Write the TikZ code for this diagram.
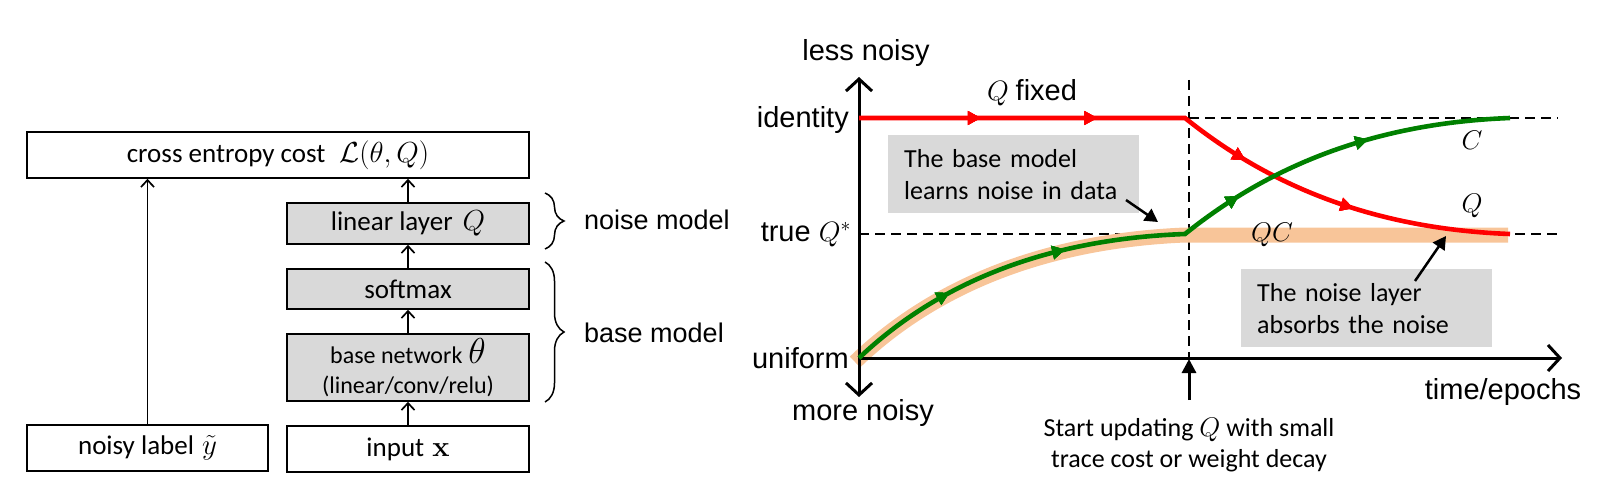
\RequirePackage{fix-cm}
\documentclass[tikz,border=0pt]{standalone}
\usepackage[no-math]{fontspec}
\setmainfont{Carlito}
\newfontfamily\arialf{Liberation Sans}
\usetikzlibrary{arrows.meta,decorations.pathreplacing,decorations.markings}
\definecolor{boxgray}{RGB}{217,217,217}
\definecolor{curvered}{RGB}{255,0,0}
\definecolor{curvegreen}{RGB}{0,128,0}
\definecolor{bandorange}{RGB}{248,197,153}
\tikzset{
  blk/.style={draw=black, line width=1.6pt, minimum width=242pt, inner sep=0pt, font=\fontsize{27}{32}\selectfont},
  gblk/.style={blk, fill=boxgray},
  conn/.style={line width=1.5pt, -{Straight Barb[length=7pt,width=13pt,line width=1.7pt]}},
  brc/.style={decorate, decoration={brace, amplitude=19pt}, line width=1.5pt},
  sidelbl/.style={font=\arialf\fontsize{27}{32}\selectfont, anchor=west, inner sep=0pt},
  axlbl/.style={font=\arialf\fontsize{29}{34}\selectfont, inner sep=0pt},
  annot/.style={fill=boxgray, anchor=north west, text width=219pt, inner xsep=16pt, inner ysep=0pt,
                minimum height=78pt, align=left, font=\fontsize{26}{32}\selectfont},
  dsh/.style={line width=2.4pt, dash pattern=on 10pt off 6pt},
  midtri/.style={decoration={markings,
      mark=at position #1 with {\arrow{Triangle[length=13pt,width=13pt]}}}, postaction={decorate}},
  blackarrow/.style={line width=2.5pt, -{Triangle[length=13pt,width=14pt]}},
}
\begin{document}
\begin{tikzpicture}[x=1pt,y=-1pt]
\useasboundingbox (0,0) rectangle (1605,489);

% ---------------- left: network ----------------
\node[blk, minimum width=502pt, minimum height=46pt] (ce) at (278,155)
  {cross entropy cost\hspace{14pt}{\fontsize{29}{32}\selectfont$\mathcal{L}(\theta,Q)$}};
\node[gblk, minimum height=41pt] (lin) at (408,223.5) {linear layer\hspace{10pt}{\fontsize{29}{32}\selectfont$Q$}};
\node[gblk, minimum height=40pt] (soft) at (408,289) {softmax};
\node[gblk, minimum height=67pt, align=center, font=\fontsize{24}{30}\selectfont] (base) at (408,367.5)
  {base network\hspace{6pt}{\fontsize{36}{36}\selectfont$\theta$}\\(linear/conv/relu)};
\node[blk, minimum height=46pt] (inp) at (408,449) {input\hspace{8pt}{\fontsize{29}{32}\selectfont$\mathbf{x}$}};
\node[blk, minimum width=241pt, minimum height=46pt] (noisy) at (147.5,448) {noisy label\hspace{8pt}{\fontsize{29}{32}\selectfont$\tilde{y}$}};

\draw[conn] (noisy.north) -- (noisy.north |- ce.south);
\draw[conn] (inp.north) -- (base.south);
\draw[conn] (base.north) -- (soft.south);
\draw[conn] (soft.north) -- (lin.south);
\draw[conn] (lin.north) -- (lin.north |- ce.south);

\coordinate (nb1) at (545,193);
\coordinate (nb2) at (545,249);
\coordinate (bb1) at (545,262);
\coordinate (bb2) at (545,402);
\draw[brc] (nb1) -- (nb2);
\draw[brc] (bb1) -- (bb2);
\node[sidelbl] (nm) at (584,220) {noise model};
\node[sidelbl] (bm) at (584,333) {base model};

% ---------------- right: plot ----------------
\coordinate (O) at (859,358);
\coordinate (ytop) at (859,77);
\coordinate (ybot) at (859,397);
\coordinate (xend) at (1562,358);

% dashed guides
\draw[dsh] (859,234) -- (1558,234);
\draw[dsh] (1189,118) -- (1558,118);
\draw[dsh] (1189,80) -- (1189,358);

% orange band
\draw[bandorange, line width=15pt] (855,362) .. controls (917,302) and (1020,242) .. (1185,235) -- (1508,235);

% axes
\draw[line width=3pt, {Straight Barb[length=12pt,width=26pt]}-{Straight Barb[length=12pt,width=26pt]}] (ybot) -- (ytop);
\draw[line width=3pt, -{Straight Barb[length=12pt,width=26pt]}] (O) -- (xend);

% curves
\draw[curvered, line width=4.6pt, line join=miter,
  midtri=0.18, midtri=0.352, midtri=0.59, midtri=0.765]
  (859,118) -- (1185,118) .. controls (1250,170) and (1350,228) .. (1510,234);
\draw[curvegreen, line width=4.6pt,
  midtri=0.158, midtri=0.333, midtri=0.597, midtri=0.797]
  (859,358) .. controls (920,300) and (1020,240) .. (1185,234)
  .. controls (1250,182) and (1350,124) .. (1510,118);

% axis labels
\node[axlbl] (less) at (866,53) {less noisy};
\node[axlbl] (more) at (863,413) {more noisy};
\node[axlbl, anchor=east] (ident) at (849,120) {identity};
\node[axlbl, anchor=east] (trueq) at (851,235) {true {\fontsize{28}{32}\selectfont$Q^{*}$}};
\node[axlbl, anchor=east] (unif) at (849,358) {uniform};
\node[axlbl] (time) at (1503,392) {time/epochs};
\node[axlbl] (qfix) at (1032,93) {{\fontsize{28}{32}\selectfont$Q$}\hspace{7pt}fixed};

% curve labels
\node[font=\fontsize{27}{32}\selectfont, inner sep=0pt] (lc) at (1472,140) {$C$};
\node[font=\fontsize{27}{32}\selectfont, inner sep=0pt] (lq) at (1472,206) {$Q$};
\node[font=\fontsize{27}{32}\selectfont, inner sep=0pt] (lqc) at (1272,235) {$QC$};

% annotations
\node[annot] (ann1) at (888,135) {The base model\\learns noise in data};
\node[annot] (ann2) at (1241,269) {The noise layer\\absorbs the noise};
\coordinate (a1s) at (1126,200);
\coordinate (a1e) at (1158,222);
\coordinate (a2s) at (1415,281);
\coordinate (a2e) at (1446,236);
\draw[blackarrow] (a1s) -- (a1e);
\draw[blackarrow] (a2s) -- (a2e);

% start-updating marker
\coordinate (sb) at (1189,400);
\coordinate (st) at (1189,359);
\draw[line width=3pt, -{Triangle[length=14pt,width=14pt]}] (sb) -- (st);
\node[align=center, font=\fontsize{26}{31}\selectfont, inner sep=0pt] (start) at (1189,445)
  {Start updating {\fontsize{27}{31}\selectfont$Q$} with small\\trace cost or weight decay};
\end{tikzpicture}
\end{document}
